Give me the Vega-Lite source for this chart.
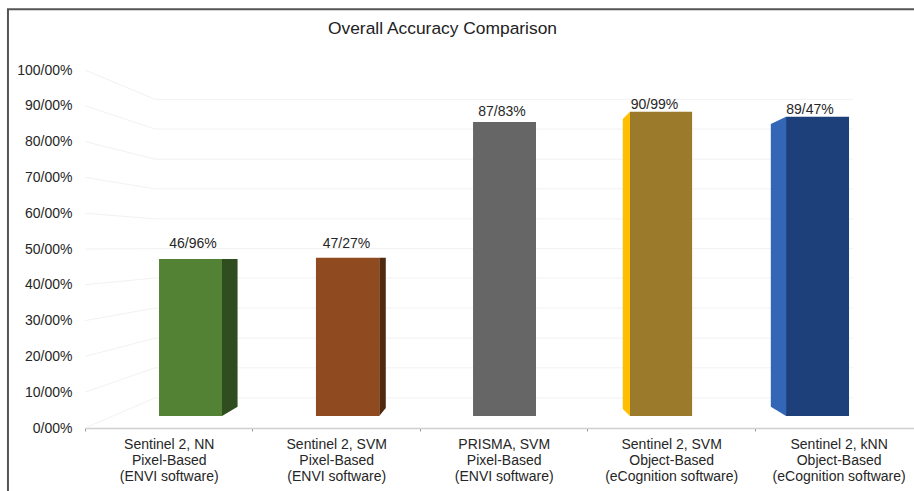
{
"$schema":"https://vega.github.io/schema/vega-lite/v6.json",
"width":829,"height":358,
"autosize":{"type":"none"},
"padding":{"left":85,"top":70,"right":0,"bottom":63},
"background":"white",
"view":{"stroke":null},
"title":{"text":"Overall Accuracy Comparison","font":"Liberation Sans","fontSize":17.4,"fontWeight":"normal","color":"#222222","anchor":"middle","frame":"group","dx":-57,"dy":32,"offset":0},
"datasets":{
"grid":[
{"tick":0,"x":0,"y":0},{"tick":0,"x":0.418,"y":8.4},{"tick":0,"x":4.586,"y":8.4},
{"tick":10,"x":0,"y":10},{"tick":10,"x":0.418,"y":16.8},{"tick":10,"x":4.586,"y":16.8},
{"tick":20,"x":0,"y":20},{"tick":20,"x":0.418,"y":25.1},{"tick":20,"x":4.586,"y":25.1},
{"tick":30,"x":0,"y":30},{"tick":30,"x":0.418,"y":33.5},{"tick":30,"x":4.586,"y":33.5},
{"tick":40,"x":0,"y":40},{"tick":40,"x":0.418,"y":41.9},{"tick":40,"x":4.586,"y":41.9},
{"tick":50,"x":0,"y":50},{"tick":50,"x":0.418,"y":50.1},{"tick":50,"x":4.586,"y":50.1},
{"tick":60,"x":0,"y":60},{"tick":60,"x":0.418,"y":58.4},{"tick":60,"x":4.586,"y":58.4},
{"tick":70,"x":0,"y":70},{"tick":70,"x":0.418,"y":66.8},{"tick":70,"x":4.586,"y":66.8},
{"tick":80,"x":0,"y":80},{"tick":80,"x":0.418,"y":75.1},{"tick":80,"x":4.586,"y":75.1},
{"tick":90,"x":0,"y":90},{"tick":90,"x":0.418,"y":83.5},{"tick":90,"x":4.586,"y":83.5},
{"tick":100,"x":0,"y":100},{"tick":100,"x":0.418,"y":91.8},{"tick":100,"x":4.586,"y":91.8}
],
"sides":[
{"bar":"a","x":0.818,"top":47.2,"bottom":3.35},{"bar":"a","x":0.911,"top":47.2,"bottom":5.95},
{"bar":"b","x":1.757,"top":47.57,"bottom":3.35},{"bar":"b","x":1.796,"top":47.57,"bottom":5.6},
{"bar":"d","x":3.211,"top":86.3,"bottom":5.3},{"bar":"d","x":3.254,"top":88.35,"bottom":3.35},
{"bar":"e","x":4.095,"top":84.9,"bottom":5.95},{"bar":"e","x":4.186,"top":86.95,"bottom":3.35}
],
"bars":[
{"bar":"a","x":0.442,"x2":0.818,"top":47.2,"bottom":3.35,"label":"46/96%","lx":0.645,"ly":51.5},
{"bar":"b","x":1.379,"x2":1.757,"top":47.57,"bottom":3.35,"label":"47/27%","lx":1.561,"ly":51.5},
{"bar":"c","x":2.317,"x2":2.693,"top":85.5,"bottom":3.35,"label":"87/83%","lx":2.49,"ly":88.2},
{"bar":"d","x":3.254,"x2":3.625,"top":88.35,"bottom":3.35,"label":"90/99%","lx":3.4,"ly":90.2},
{"bar":"e","x":4.186,"x2":4.562,"top":86.95,"bottom":3.35,"label":"89/47%","lx":4.329,"ly":88.8}
],
"frame":[{"x":-0.46,"y":-17.6},{"x":-0.46,"y":117},{"x":4.95,"y":117}]
},
"layer":[
{"data":{"name":"frame"},"mark":{"type":"line","color":"#555555","strokeWidth":2,"clip":false},
"encoding":{"x":{"field":"x","type":"quantitative","scale":{"domain":[0,4.95],"nice":false,"zero":false},"axis":null},"y":{"field":"y","type":"quantitative","scale":{"domain":[0,100],"nice":false},"axis":null},"order":{"field":"y","sort":"ascending"}}},
{"data":{"name":"grid"},"mark":{"type":"line","color":"#f2f2f2","strokeWidth":1},
"encoding":{
"x":{"field":"x","type":"quantitative","scale":{"domain":[0,4.95],"nice":false,"zero":false},"axis":{"orient":"bottom","title":null,"grid":false,"values":[0,1,2,3,4],"labels":false,"domain":true,"domainColor":"#d0d0d0","domainWidth":1.5,"ticks":true,"tickColor":"#999999","tickSize":3}},
"y":{"field":"y","type":"quantitative","scale":{"domain":[0,100],"nice":false},"axis":{"orient":"left","title":null,"grid":false,"domain":false,"ticks":false,"values":[0,10,20,30,40,50,60,70,80,90,100],"labelExpr":"datum.value+'/00%'","labelFont":"Liberation Sans","labelFontSize":14,"labelColor":"#262626","labelPadding":13}},
"detail":{"field":"tick"}}},
{"data":{"name":"sides"},"mark":{"type":"area","opacity":1},
"encoding":{
"x":{"field":"x","type":"quantitative","axis":null},
"y":{"field":"top","type":"quantitative","axis":null},
"y2":{"field":"bottom"},
"color":{"field":"bar","type":"nominal","legend":null,"scale":{"domain":["a","b","d","e"],"range":["#2f4d1f","#4f2a0e","#ffbf00","#3466b8"]}}}},
{"data":{"name":"bars"},"mark":{"type":"rect","strokeWidth":1},
"encoding":{
"x":{"field":"x","type":"quantitative","axis":{"orient":"bottom","title":null,"grid":false,"values":[0.5,1.5,2.5,3.5,4.5],"domain":false,"ticks":false,"labelExpr":"[['Sentinel 2, NN','Pixel-Based','(ENVI software)'],['Sentinel 2, SVM','Pixel-Based','(ENVI software)'],['PRISMA, SVM','Pixel-Based','(ENVI software)'],['Sentinel 2, SVM','Object-Based','(eCognition software)'],['Sentinel 2, kNN','Object-Based','(eCognition software)']][floor(datum.value)]","labelFont":"Liberation Sans","labelFontSize":14,"labelColor":"#262626","labelPadding":9,"labelLineHeight":16,"labelOverlap":false,"labelFlush":false,"labelBound":false}},
"x2":{"field":"x2"},
"y":{"field":"top","type":"quantitative","axis":null},
"y2":{"field":"bottom"},
"color":{"field":"bar","type":"nominal","legend":null,"scale":{"domain":["a","b","c","d","e"],"range":["#548235","#8f4a1f","#666666","#9c7a2b","#1d3f7a"]}}}},
{"data":{"name":"bars"},"mark":{"type":"text","font":"Liberation Sans","fontSize":14,"color":"#262626","baseline":"middle","align":"center"},
"encoding":{
"x":{"field":"lx","type":"quantitative","axis":null},
"y":{"field":"ly","type":"quantitative","axis":null},
"text":{"field":"label"}}}
],
"resolve":{"axis":{"x":"independent","y":"independent"},"scale":{"color":"independent"}}
}
